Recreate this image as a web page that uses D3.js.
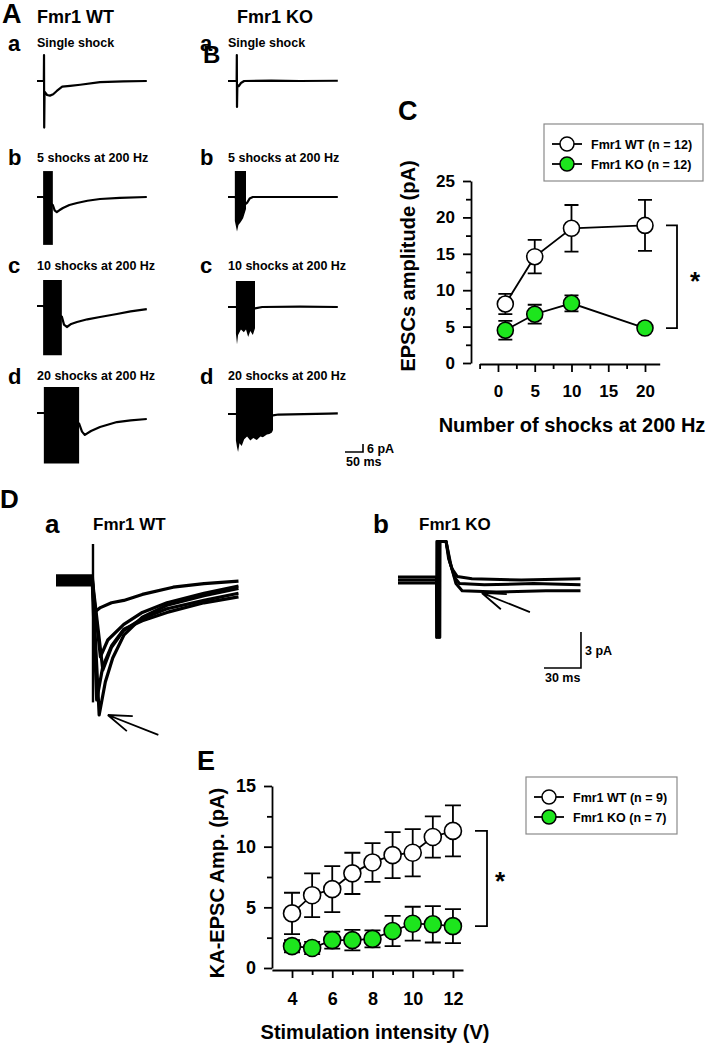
<!DOCTYPE html>
<html>
<head>
<meta charset="utf-8">
<script src="https://cdn.jsdelivr.net/npm/d3@7"></script>
<style>
  body { margin: 0; background: #fff; }
  svg { display: block; font-family: 'Liberation Sans', Arial, Helvetica, sans-serif; font-weight: bold; }
</style>
</head>
<body>
<svg id="figure" width="709" height="1043"></svg>
<script>
// ---------- A / B : evoked EPSCs, time (ms) vs current (pA)
const shockLabels = ['Single shock', '5 shocks at 200 Hz', '10 shocks at 200 Hz', '20 shocks at 200 Hz'];
const rowLetters = ['a', 'b', 'c', 'd'];

const wtTraces = [
  [[0,0],[19,0],[19.5,19.5],[20,-35],[21,-8],[28,-10.5],[36,-11],[45,-10],[55,-7.5],[70,-4.2],[92,-3.6],[120,-2.8],[175,-0.9],[240,-0.3],[305,0]],
  [[0,0],[17,0],[44,-6],[49,-10],[55,-11.3],[62,-10],[72,-8.3],[90,-6],[111,-4.5],[140,-2.8],[175,-1.5],[230,-0.6],[305,0]],
  [[0,0],[17,0],[69,-8],[75,-14],[83,-15.8],[95,-13.5],[111,-12],[140,-10],[175,-8.3],[222,-6],[260,-4],[305,-2.3]],
  [[0,0],[19,0],[117,-8],[125,-14],[133,-16.5],[150,-13.5],[175,-10.5],[222,-6.8],[260,-5.5],[305,-4.5]]
];
const koTraces = [
  [[0,0],[24,0],[24.5,19.5],[25,-19.5],[26,-3],[30,-3.8],[36,-1.5],[45,0],[120,0.3],[200,0],[305,0.2]],
  [[0,0],[19,0],[50,-5],[54,-4],[60,-1.2],[69,0],[305,0]],
  [[0,0],[22,0],[75,-1],[95,0],[200,0.3],[305,0]],
  [[0,0],[22,0],[125,-1],[140,-0.4],[280,0.3],[305,0.5]]
];

// high-frequency burst artefacts: lower envelope, top fixed
const burstTop = 19.5;
const wtBurstFloor = [null, [[17,-36],[44,-36]], [[17,-37],[69,-37]], [[19,-38],[117,-38]]];
const koBurstFloor = [null,
  [[19,-18],[22,-22],[25,-26],[29,-21],[35,-19],[42,-16],[50,-9]],
  [[22,-20],[25,-28],[28,-21],[36,-17],[44,-19],[50,-17],[56,-22.5],[62,-18],[69,-21],[75,-16]],
  [[22,-20],[25,-25],[28,-28.6],[32,-22],[38,-24],[45,-19],[53,-17],[62,-20],[70,-18],[80,-19.5],[90,-17],[97,-17.5],[108,-15.5],[115,-15],[122,-14],[125,-12]]
];

// ---------- C : EPSC amplitude vs number of shocks
const shockCounts = [1, 5, 10, 20];
const cWtMean = [8.1, 14.6, 18.5, 18.9];
const cWtSem = [1.4, 2.3, 3.2, 3.5];
const cKoMean = [4.5, 6.7, 8.2, 4.8];
const cKoSem = [1.3, 1.3, 1.1, 0.4];

// ---------- D : KA-EPSC traces, time (ms) vs current (pA)
const kaWtTraces = [
  [[0,0.35],[29.5,0.35],[31,-2.7],[36,-2.3],[45,-1.9],[55,-1.7],[70,-1.2],[95,-0.6],[120,-0.3],[148,-0.1]],
  [[0,0.15],[29.5,0.15],[35,-11.25],[40,-8.5],[46,-6.5],[55,-4.6],[70,-3.1],[90,-2.1],[120,-1.3],[148,-0.7]],
  [[0,0],[29.5,0],[38,-7.5],[45,-5.6],[55,-4.2],[70,-3.2],[90,-2.4],[120,-1.7],[148,-1.1]],
  [[0,-0.2],[29.5,-0.2],[36,-6.4],[42,-5],[55,-3.7],[70,-2.7],[90,-1.9],[120,-1.1],[148,-0.5]],
  [[0,-0.4],[29.5,-0.4],[33,-10],[38,-7.2],[45,-5.5],[55,-4.1],[70,-3.4],[90,-2.7],[120,-1.9],[148,-1.4]]
];
const kaWtStim = [30, 3.0, -10.2];
const kaKoTraces = [
  [[0,0.25],[31.2,0.25],[31.3,-4.8],[31.5,3.2],[39,3.2],[41,1.8],[44,0.9],[48,0.3],[60,0.1],[100,0],[148,0.1]],
  [[0,0],[32.5,0],[32.6,-4.8],[32.8,3.2],[39,3.2],[42,1.5],[46,0.2],[50,-0.3],[70,-0.4],[110,-0.3],[148,-0.4]],
  [[0,-0.25],[33.8,-0.25],[33.9,-4.8],[34.1,3.2],[39,3.2],[43,1.2],[47,-0.3],[52,-0.9],[80,-1],[120,-0.9],[148,-0.9]]
];

// ---------- E : KA-EPSC amplitude vs stimulation intensity
const intensities = [4, 5, 6, 7, 8, 9, 10, 11, 12];
const eWtMean = [4.5, 6.0, 6.5, 7.8, 8.7, 9.3, 9.5, 10.8, 11.3];
const eWtSem = [1.7, 1.8, 1.9, 1.7, 1.6, 1.9, 1.95, 1.7, 2.1];
const eKoMean = [1.8, 1.65, 2.3, 2.3, 2.4, 3.05, 3.65, 3.6, 3.45];
const eKoSem = [0.5, 0.5, 0.7, 0.85, 0.7, 1.25, 1.4, 1.5, 1.4];

const GREEN = '#1de51d';
const svg = d3.select('#figure');

const addText = (x, y, str, size, anchor = 'start') => svg.append('text')
  .attr('x', x).attr('y', y)
  .attr('font-size', size)
  .attr('text-anchor', anchor)
  .text(str);

// trace scales: ms -> px and pA -> px around a baseline
function tracePanel(x0, y0, pxPerMs, pxPerPa) {
  const x = d3.scaleLinear().domain([0, 1]).range([x0, x0 + pxPerMs]);
  const y = d3.scaleLinear().domain([0, 1]).range([y0, y0 - pxPerPa]);
  return {
    x, y,
    line: d3.line().x(d => x(d[0])).y(d => y(d[1])),
    burst: d3.area().x(d => x(d[0])).y0(d => y(d[1])).y1(y(burstTop))
  };
}

const drawTrace = (p, data, width) => svg.append('path').datum(data)
  .attr('d', p.line)
  .attr('fill', 'none')
  .attr('stroke', '#000')
  .attr('stroke-width', width)
  .attr('stroke-linejoin', 'round');

function drawArrow(p, tip, tail) {
  const tx = p.x(tip[0]), ty = p.y(tip[1]), ex = p.x(tail[0]), ey = p.y(tail[1]);
  const ang = Math.atan2(ey - ty, ex - tx);
  const head = [ang - 0.33, ang + 0.33].map(a => [tx + 25 * Math.cos(a), ty + 25 * Math.sin(a)]);
  const path = d3.path();
  path.moveTo(ex, ey); path.lineTo(tx, ty);
  head.forEach(h => { path.moveTo(tx, ty); path.lineTo(h[0], h[1]); });
  svg.append('path').attr('d', path.toString()).attr('fill', 'none').attr('stroke', '#000').attr('stroke-width', 1.8);
}

function scaleBar(p, corner, ms, pa, msLabel, paLabel, size) {
  const cx = p.x(corner[0]), cy = p.y(corner[1]);
  svg.append('path')
    .attr('d', `M${p.x(corner[0] - ms)},${cy}H${cx}V${p.y(corner[1] + pa)}`)
    .attr('fill', 'none').attr('stroke', '#000').attr('stroke-width', 1.6);
  addText(cx + 4, (cy + p.y(corner[1] + pa)) / 2 + 5, paLabel, size);
  addText(p.x(corner[0] - ms) + 1, cy + 14, msLabel, size);
}

// ================= A / B =================
addText(2, 23, 'A', 27);
addText(37, 23, 'Fmr1 WT', 18);
addText(237, 23, 'Fmr1 KO', 18);

const letterY = [51, 165, 273, 384];
const labelY = [47, 162, 270, 380];
const sides = [
  { x0: 37, letterX: 8, base: [81, 197, 306, 413], traces: wtTraces, floors: wtBurstFloor },
  { x0: 228, letterX: 200, base: [81, 197, 307, 414], traces: koTraces, floors: koBurstFloor }
];

rowLetters.forEach((letter, i) => {
  sides.forEach(side => {
    const p = tracePanel(side.x0, side.base[i], 0.36, 1.33);
    addText(side.letterX, letterY[i], letter, 22);
    addText(side.x0, labelY[i], shockLabels[i], 12.5);
    drawTrace(p, side.traces[i], 2.2);
    if (side.floors[i]) {
      svg.append('path').datum(side.floors[i]).attr('d', p.burst).attr('fill', '#000');
    }
  });
});
addText(203, 63, 'B', 24);

// A/B scale bar, placed in KO row d coordinates
scaleBar(tracePanel(228, 414, 0.36, 1.33), [375, -28.6], 50, 6, '50 ms', '6 pA', 12.5);

// ================= C =================
const xC = d3.scaleLinear().domain([-2.5, 22]).range([479.6, 659.7]);
const yC = d3.scaleLinear().domain([0, 25]).range([363, 181]);

function styleAxis(g, size) {
  g.attr('font-family', null).attr('font-size', size);
  g.select('.domain').attr('stroke-width', 1.8);
  g.selectAll('.tick line').attr('stroke-width', 1.8);
  return g;
}

function drawAxes(x, y, xAt, yAt, xMajor, xMinor, yMajor, yMinor, size, pad) {
  styleAxis(svg.append('g').attr('transform', `translate(0,${xAt})`)
    .call(d3.axisBottom(x).tickValues(xMajor).tickSize(8).tickSizeOuter(0).tickPadding(pad)), size);
  svg.append('g').attr('transform', `translate(0,${xAt})`)
    .call(d3.axisBottom(x).tickValues(xMinor).tickSize(5).tickFormat(''))
    .call(g => g.select('.domain').remove())
    .selectAll('line').attr('stroke-width', 1.8);
  styleAxis(svg.append('g').attr('transform', `translate(${yAt},0)`)
    .call(d3.axisLeft(y).tickValues(yMajor).tickSize(8).tickSizeOuter(0).tickPadding(8)), size);
  svg.append('g').attr('transform', `translate(${yAt},0)`)
    .call(d3.axisLeft(y).tickValues(yMinor).tickSize(5).tickFormat(''))
    .call(g => g.select('.domain').remove())
    .selectAll('line').attr('stroke-width', 1.8);
}

function drawSeries(x, y, xs, mean, sem, fill, r, cap) {
  const pts = xs.map((v, i) => ({ x: x(v), y: y(mean[i]), lo: y(mean[i] - sem[i]), hi: y(mean[i] + sem[i]) }));
  const g = svg.append('g');
  g.append('path').datum(pts)
    .attr('d', d3.line().x(d => d.x).y(d => d.y))
    .attr('fill', 'none').attr('stroke', '#000').attr('stroke-width', 1.8);
  g.selectAll('path.err').data(pts).enter().append('path')
    .attr('class', 'err')
    .attr('d', d => `M${d.x - cap},${d.hi}H${d.x + cap}M${d.x},${d.hi}V${d.lo}M${d.x - cap},${d.lo}H${d.x + cap}`)
    .attr('fill', 'none').attr('stroke', '#000').attr('stroke-width', 1.8);
  g.selectAll('circle').data(pts).enter().append('circle')
    .attr('cx', d => d.x).attr('cy', d => d.y).attr('r', r)
    .attr('fill', fill).attr('stroke', '#000').attr('stroke-width', 1.6);
}

function drawLegend(x, y, w, h, labels) {
  svg.append('rect').attr('x', x).attr('y', y).attr('width', w).attr('height', h)
    .attr('fill', '#fff').attr('stroke', '#8a8a8a').attr('stroke-width', 1.2);
  labels.forEach((lab, i) => {
    const cy = y + 20 + i * 20;
    svg.append('line').attr('x1', x + 8).attr('x2', x + 38).attr('y1', cy).attr('y2', cy)
      .attr('stroke', '#000').attr('stroke-width', 1.8);
    svg.append('circle').attr('cx', x + 23).attr('cy', cy).attr('r', 7)
      .attr('fill', i === 0 ? '#fff' : GREEN).attr('stroke', '#000').attr('stroke-width', 1.5);
    addText(x + 47, cy + 4.5, lab, 12.5);
  });
}

function drawBracket(yTop, yBot, x0, x1, starX, starY) {
  svg.append('path').attr('d', `M${x0},${yTop}H${x1}V${yBot}H${x0}`)
    .attr('fill', 'none').attr('stroke', '#000').attr('stroke-width', 1.8);
  addText(starX, starY + 12, '*', 26, 'middle');
}

addText(398, 120, 'C', 27);
drawAxes(xC, yC, 364, 471, [0, 5, 10, 15, 20], [-2.5, 2.5, 7.5, 12.5, 17.5], [0, 5, 10, 15, 20, 25], [2.5, 7.5, 12.5, 17.5, 22.5], 17, 13);
drawSeries(xC, yC, shockCounts, cWtMean, cWtSem, '#fff', 8, 7);
drawSeries(xC, yC, shockCounts, cKoMean, cKoSem, GREEN, 8, 7);
drawLegend(544, 124, 159, 57, ['Fmr1 WT (n = 12)', 'Fmr1 KO (n = 12)']);
drawBracket(yC(cWtMean[3]), yC(cKoMean[3]), 666, 677, 695, 278);
addText(572, 432, 'Number of shocks at 200 Hz', 20, 'middle');
svg.append('text').attr('transform', 'translate(415,266) rotate(-90)')
  .attr('text-anchor', 'middle').attr('font-size', 20).text('EPSCs amplitude (pA)');

// ================= D =================
addText(0, 508, 'D', 26);
addText(45, 533, 'a', 26);
addText(93, 530, 'Fmr1 WT', 17);
addText(373, 533, 'b', 26);
addText(419, 530, 'Fmr1 KO', 17);

const dWt = tracePanel(56, 580, 1.233, 12);
const dKo = tracePanel(398, 580, 1.233, 12);
kaWtTraces.forEach(t => drawTrace(dWt, t, 3.2));
drawTrace(dWt, [[kaWtStim[0], kaWtStim[1]], [kaWtStim[0], kaWtStim[2]]], 2.4);
kaKoTraces.forEach(t => drawTrace(dKo, t, 3));
drawArrow(dWt, [42, -11.25], [83, -12.9]);
drawArrow(dKo, [68, -1.08], [107, -2.67]);
scaleBar(dKo, [148.4, -7.33], 30, 3, '30 ms', '3 pA', 12.5);

// ================= E =================
const xE = d3.scaleLinear().domain([3, 12.5]).range([271.9, 463]);
const yE = d3.scaleLinear().domain([0, 15]).range([968, 786]);

addText(197, 770, 'E', 27);
drawAxes(xE, yE, 970, 272, [4, 6, 8, 10, 12], [5, 7, 9, 11], [0, 5, 10, 15], [2.5, 7.5, 12.5], 18, 14);
drawSeries(xE, yE, intensities, eWtMean, eWtSem, '#fff', 8.5, 8);
drawSeries(xE, yE, intensities, eKoMean, eKoSem, GREEN, 8.5, 8);
drawLegend(526, 777, 151, 57, ['Fmr1 WT (n = 9)', 'Fmr1 KO (n = 7)']);
drawBracket(yE(eWtMean[8]), yE(eKoMean[8]), 475, 487, 500, 878);
addText(375, 1039, 'Stimulation intensity (V)', 20, 'middle');
svg.append('text').attr('transform', 'translate(224,883) rotate(-90)')
  .attr('text-anchor', 'middle').attr('font-size', 20).text('KA-EPSC Amp. (pA)');
</script>
</body>
</html>
